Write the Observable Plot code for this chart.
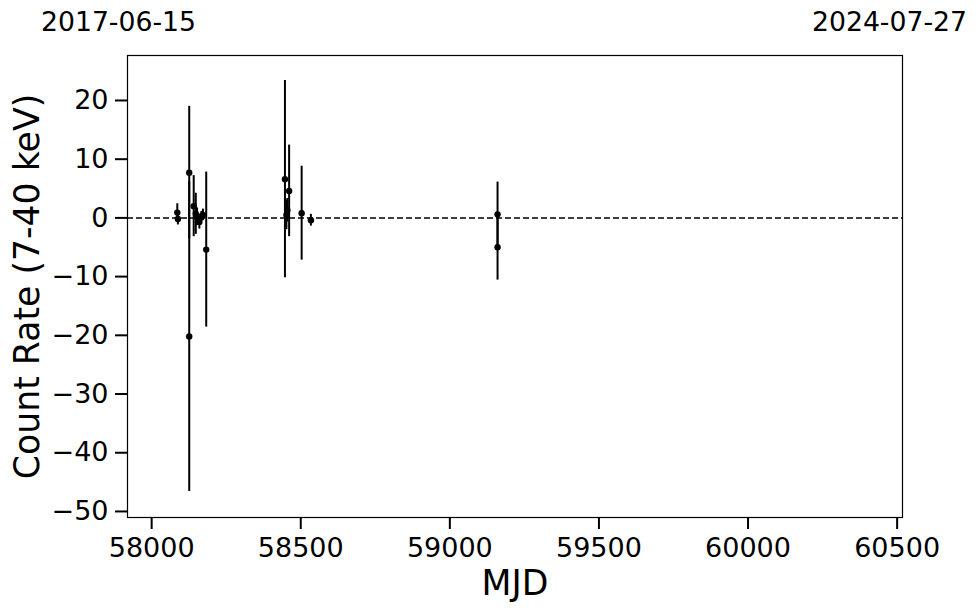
<!DOCTYPE html>
<html>
<head>
<meta charset="utf-8">
<script src="https://cdn.jsdelivr.net/npm/d3@7"></script>
<script src="https://cdn.jsdelivr.net/npm/@observablehq/plot@0.6"></script>
<style>
  html, body { margin: 0; padding: 0; background: white; }
  svg, svg text { font-family: "DejaVu Sans" !important; }
  g[aria-label="x-axis tick label"] text,
  g[aria-label="y-axis tick label"] text { font-size: 27px !important; font-variant: normal !important; }
</style>
</head>
<body>
<div id="chart"></div>
<script>
// Observations (MJD, count rate 7-40 keV, 1-sigma error)
const mjd  = [58086, 58088, 58126, 58126, 58141, 58148, 58152, 58160, 58167, 58172, 58183,
              58447, 58452, 58455, 58461, 58503, 58534, 59160, 59160];
const rate = [0.9, -0.2, 7.7, -20.2, 2.0, 0.7, 0.2, -0.7, 0.3, 0.5, -5.4,
              6.6, 0.5, 1.3, 4.6, 0.8, -0.4, 0.6, -5.0];
const err  = [1.5, 1.0, 11.3, 26.4, 5.2, 3.5, 1.5, 1.2, 0.8, 1.0, 13.2,
              16.8, 2.5, 2.0, 7.8, 8.0, 1.0, 5.5, 5.6];

const xDomain = [57919, 60518];
const yDomain = [-51.03, 27.66];
const xTicks = [58000, 58500, 59000, 59500, 60000, 60500];
const yTicks = [-50, -40, -30, -20, -10, 0, 10, 20];
const dateLabels = ["2017-06-15", "2024-07-27"];

const data = mjd.map((m, i) => ({mjd: m, rate: rate[i], err: err[i]}));

const chart = Plot.plot({
  width: 980,
  height: 613,
  marginLeft: 127,
  marginRight: 78,
  marginTop: 55,
  marginBottom: 96,
  style: {fontFamily: "DejaVu Sans", fontSize: "27px", color: "black", background: "white"},
  x: {domain: xDomain},
  y: {domain: yDomain},
  marks: [
    Plot.axisX({ticks: xTicks, tickFormat: d => String(d), tickSize: 12, tickPadding: 8,
                strokeWidth: 2, label: null, fontSize: 27, fontFamily: "DejaVu Sans"}),
    Plot.axisY({ticks: yTicks, tickFormat: d => (d < 0 ? "\u2212" + Math.abs(d) : String(d)),
                tickSize: 12, tickPadding: 7, strokeWidth: 2, label: null, fontSize: 27, fontFamily: "DejaVu Sans"}),
    Plot.ruleY([0], {stroke: "black", strokeWidth: 1.5, strokeDasharray: "6,3"}),
    Plot.ruleX(data, {x: "mjd", y1: d => d.rate - d.err, y2: d => d.rate + d.err,
                      stroke: "black", strokeWidth: 2}),
    Plot.dot(data, {x: "mjd", y: "rate", r: 3.2, fill: "black", stroke: "none"}),
    Plot.frame({stroke: "black", strokeWidth: 1.2}),
    Plot.text([xDomain[0]], {x: d => d, frameAnchor: "top", text: () => dateLabels[0],
               dy: -33, dx: -9, lineAnchor: "middle", textAnchor: "middle", fontSize: 26.7, fill: "black"}),
    Plot.text([xDomain[1]], {x: d => d, frameAnchor: "top", text: () => dateLabels[1],
               dy: -33, dx: -13, lineAnchor: "middle", textAnchor: "middle", fontSize: 26.7, fill: "black"}),
    Plot.text(["MJD"], {frameAnchor: "bottom", text: d => d, dy: 66, lineAnchor: "middle",
               textAnchor: "middle", fontSize: 34.7, fill: "black"}),
    Plot.text(["Count Rate (7-40 keV)"], {frameAnchor: "left", text: d => d, dx: -100, rotate: -90,
               lineAnchor: "middle", textAnchor: "middle", fontSize: 34.7, fill: "black"})
  ]
});
document.getElementById("chart").appendChild(chart);
</script>
</body>
</html>
